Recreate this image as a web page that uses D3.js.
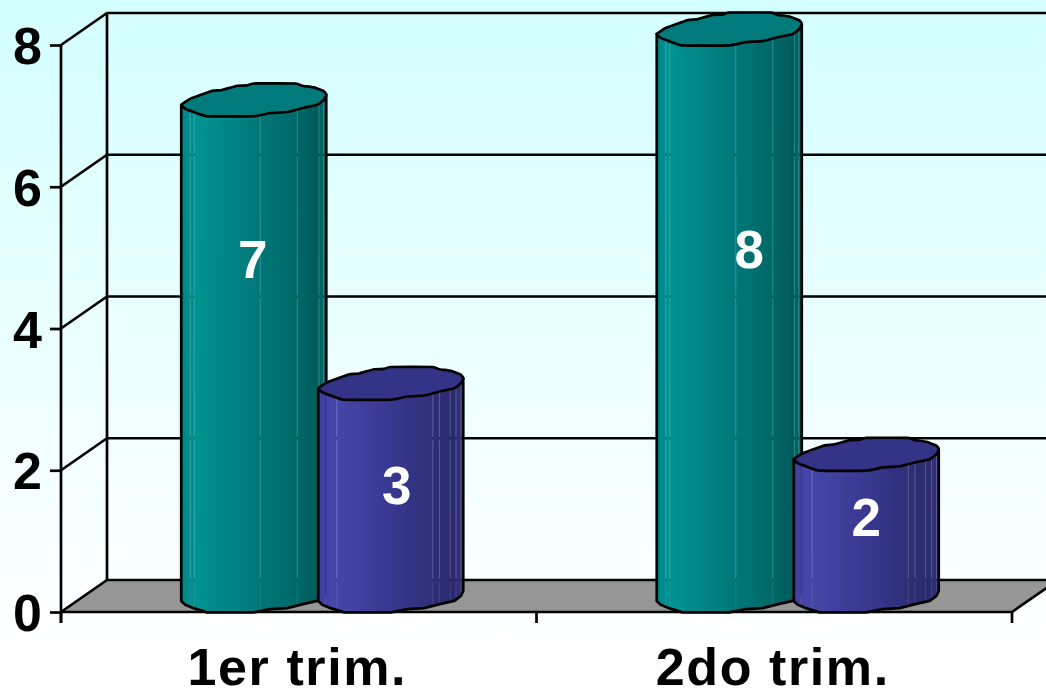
<!DOCTYPE html>
<html>
<head>
<meta charset="utf-8">
<script src="https://cdn.jsdelivr.net/npm/d3@7/dist/d3.min.js"></script>
<style>
  html, body { margin: 0; padding: 0; overflow: hidden; background: #fff; }
  svg { display: block; }
  text { font-family: "Liberation Sans", Arial, sans-serif; font-weight: 700; }
</style>
</head>
<body>
<svg id="chart" width="1046" height="691"></svg>
<script>
// Chart values
const categories = ["1er trim.", "2do trim."];
const seriesNames = ["serieA", "serieB"];
const serieA = [7, 8];
const serieB = [3, 2];
const yTicks = [0, 2, 4, 6, 8];

// Palette per series: body shading, cap and facet seams
const palettes = {
  serieA: {
    cap: "#007a7a",
    stops: [[0, "#008686"], [0.1, "#009292"], [0.3, "#008686"], [0.55, "#007676"], [0.8, "#006868"], [0.93, "#005c5c"], [1, "#006a6a"]],
    seams: [0.062, 0.09, 0.545, 0.80, 0.95, 0.98]
  },
  serieB: {
    cap: "#333388",
    stops: [[0, "#3e3e9c"], [0.1, "#4646aa"], [0.3, "#40409e"], [0.55, "#36368c"], [0.8, "#2e2e78"], [0.93, "#2a2a6c"], [1, "#333380"]],
    seams: [0.05, 0.127, 0.79, 0.836, 0.91, 0.95, 0.985]
  }
};

// Hand-set value label placement: height on the y scale and horizontal nudge
const labelAnchors = {
  serieA: { level: [4.76, 4.90], nudge: [-1, 20] },
  serieB: { level: [1.57, 1.12], nudge: [6, 0] }
};

// Projection of the 3D box
const depthX = 46, depthY = -32;
const barHalfWidth = 72.5, capHalfHeight = 16.4;
const black = "#000";
const lineWidth = 2.7;

const svg = d3.select("#chart");
const defs = svg.append("defs");

const x = d3.scaleBand().domain(categories).range([61, 1012]);
const y = d3.scaleLinear().domain([0, 8]).range([612, 45]);
const seriesX = d3.scalePoint().domain(seriesNames).range([-68, 69]);

// Page background fades from pale cyan to white
const bg = defs.append("linearGradient").attr("id", "bg").attr("x1", 0).attr("y1", 0).attr("x2", 0).attr("y2", 1);
bg.append("stop").attr("offset", 0).attr("stop-color", "#d4ffff");
bg.append("stop").attr("offset", 0.92).attr("stop-color", "#ffffff");
svg.append("rect").attr("width", 1046).attr("height", 691).attr("fill", "url(#bg)");

// Floor
const line = d3.line();
svg.append("path")
  .attr("d", line([[x.range()[0], y(0)], [x.range()[0] + depthX, y(0) + depthY], [1046 + 60, y(0) + depthY],
                   [x.range()[1] + depthX, y(0) + depthY], [x.range()[1], y(0)]]) + "Z")
  .attr("fill", "#969696");

// Walls: back grid lines, slanted side lines and the back corner
const grid = svg.append("g").attr("fill", "none").attr("stroke", black).attr("stroke-width", lineWidth);
yTicks.forEach(t => {
  grid.append("path").attr("d", line([[61, y(t)], [61 + depthX, y(t) + depthY], [1046, y(t) + depthY]]));
});
grid.append("path").attr("d", line([[61 + depthX, y(8) + depthY], [61 + depthX, y(0) + depthY]]));
grid.append("path").attr("d", line([[61, y(0)], [1012, y(0)], [1012 + depthX, y(0) + depthY]]));

// Axes
const yAxis = svg.append("g").attr("transform", "translate(61,0)")
  .call(d3.axisLeft(y).tickValues(yTicks).tickSize(11).tickPadding(8).tickFormat(d3.format("d")));
const xAxis = svg.append("g").attr("transform", `translate(0,${y(0)})`)
  .call(d3.axisBottom(x).tickSize(0));
[yAxis, xAxis].forEach(a => {
  a.attr("font-family", null).attr("font-size", null);
  a.selectAll("line,path").attr("stroke", black).attr("stroke-width", lineWidth);
});
yAxis.select(".domain").attr("d", line([[0, y(8)], [0, y(0) + 11]]));
yAxis.selectAll("text").attr("font-size", 52).attr("fill", black).attr("dy", "0.36em");
xAxis.select(".domain").remove();
xAxis.selectAll("text").attr("font-size", 52).attr("fill", black)
  .attr("y", 73).attr("dy", 0).attr("dx", -1.5).attr("letter-spacing", 1.6);
x.range().concat(x(categories[1])).forEach(px => {
  xAxis.append("line").attr("x1", px).attr("x2", px).attr("y1", 0).attr("y2", 11)
    .attr("stroke", black).attr("stroke-width", lineWidth);
});

// Outline of a cylinder cross-section, in half-width / half-height units
const capOutline = [
  [-1, .30], [-.876, -.06], [-.668, -.40], [-.553, -.56], [-.438, -.60], [-.23, -.86], [-.092, -.88],
  [0, -1], [.576, -1], [.668, -.86], [.83, -.76], [.968, -.52], [1, -.32], [.968, 0], [.876, .30],
  [.69, .48], [.46, .74], [.23, .80], [0, 1], [-.645, 1], [-.83, .74], [-.945, .54]
];
const rightIndex = 12;
const place = (cx, cy) => ([u, v]) => [cx + u * barHalfWidth, cy + v * capHalfHeight];
const smoothClosed = d3.line().curve(d3.curveCardinalClosed.tension(0.6));

// Cylinders
seriesNames.forEach(name => {
  const pal = palettes[name];
  const g = defs.append("linearGradient").attr("id", "body-" + name);
  pal.stops.forEach(([o, c]) => g.append("stop").attr("offset", o).attr("stop-color", c));
});

const series = { serieA, serieB };
const barsLayer = svg.append("g");
const labelsLayer = svg.append("g");

categories.forEach((cat, ci) => {
  seriesNames.forEach(name => {
    const value = series[name][ci];
    const pal = palettes[name];
    const cx = x(cat) + x.bandwidth() / 2 + depthX / 2 + seriesX(name);
    const topY = y(value) + depthY / 2;
    const baseY = y(0) + depthY / 2;
    const toTop = place(cx, topY), toBase = place(cx, baseY);

    const lower = capOutline.slice(rightIndex).concat([capOutline[0]]).map(toBase);
    const bodyPts = [toTop(capOutline[rightIndex]), ...lower, toTop(capOutline[0])];
    const left = cx - barHalfWidth, w = barHalfWidth * 2;

    // Seams between facets let what is behind the cylinder show through faintly
    const maskId = `seams-${name}-${ci}`;
    const mask = defs.append("mask").attr("id", maskId).attr("maskUnits", "userSpaceOnUse")
      .attr("x", left - 5).attr("y", topY - 30).attr("width", w + 10).attr("height", baseY - topY + 60);
    mask.append("rect").attr("x", left - 5).attr("y", topY - 30).attr("width", w + 10)
      .attr("height", baseY - topY + 60).attr("fill", "#fff");
    pal.seams.forEach(f => {
      mask.append("line").attr("x1", left + f * w).attr("x2", left + f * w)
        .attr("y1", topY - 30).attr("y2", baseY + 30)
        .attr("stroke", "#c8c8c8").attr("stroke-width", 1);
    });

    const bar = barsLayer.append("g");
    bar.append("path").attr("d", line(bodyPts) + "Z")
      .attr("fill", `url(#body-${name})`).attr("mask", `url(#${maskId})`);
    bar.append("path").attr("d", line(bodyPts) + "Z")
      .attr("fill", "none").attr("stroke", black).attr("stroke-width", lineWidth).attr("stroke-linejoin", "round");
    bar.append("path").attr("d", smoothClosed(capOutline.map(toTop)))
      .attr("fill", pal.cap).attr("stroke", black).attr("stroke-width", lineWidth).attr("stroke-linejoin", "round");

    labelsLayer.append("text")
      .attr("x", cx + labelAnchors[name].nudge[ci])
      .attr("y", y(labelAnchors[name].level[ci]) + depthY / 2)
      .attr("text-anchor", "middle").attr("dy", "0.36em")
      .attr("font-size", 53).attr("fill", "#fff")
      .text(value);
  });
});
</script>
</body>
</html>
